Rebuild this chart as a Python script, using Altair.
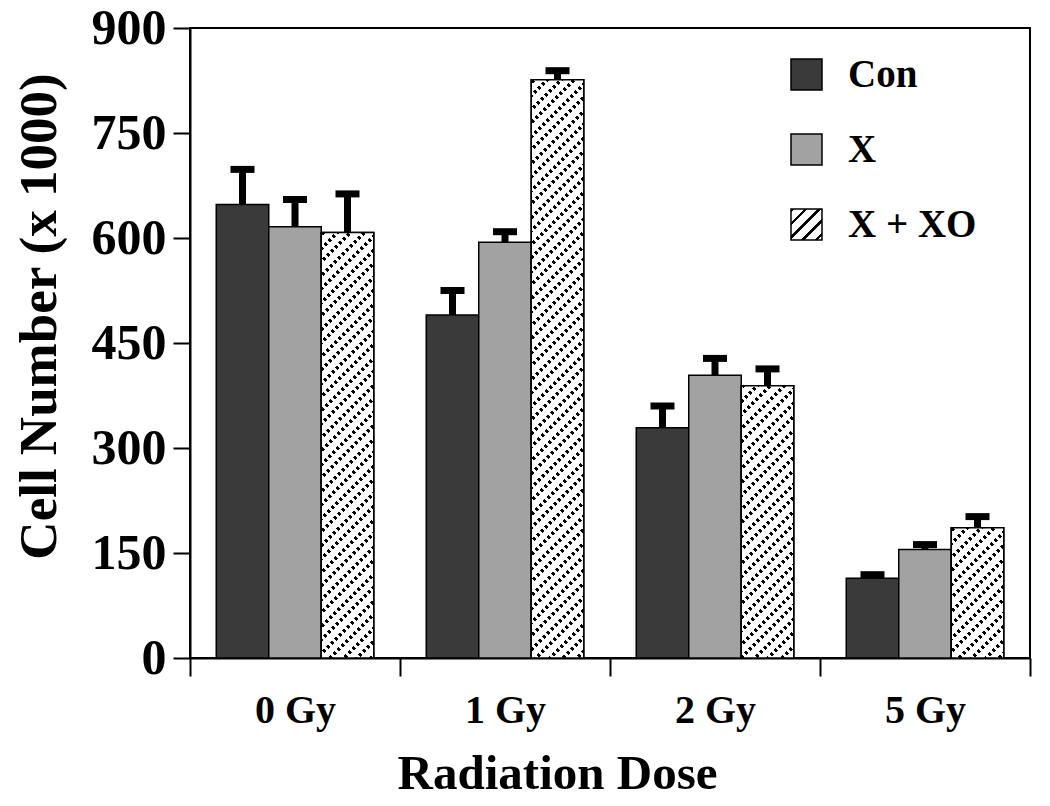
import json
import altair as alt
import pandas as pd

# ---- data ----
doses = ["0 Gy", "1 Gy", "2 Gy", "5 Gy"]
groups = ["Con", "X", "X + XO"]
con_vals = [648, 490, 329, 114]
x_vals = [616, 594, 404, 155]
xo_vals = [608, 826, 389, 186]
con_err = [50, 35, 31, 5]
x_err = [39, 15, 24, 7]
xo_err = [55, 13, 24, 16]
y_ticks = [0, 150, 300, 450, 600, 750, 900]

rows = []
for g, vals, errs in [("Con", con_vals, con_err), ("X", x_vals, x_err), ("X + XO", xo_vals, xo_err)]:
    for d, v, e in zip(doses, vals, errs):
        rows.append({"Dose": d, "Group": g, "Value": v, "Top": v + e})
df = pd.DataFrame(rows)

# ---- layout ----
W, H = 840, 630
YMAX = 900
BAR_W = W / len(doses) / 4.0
FONT = "Liberation Serif"
C_CON = "#3a3a3a"
C_X = "#a2a2a2"


def stripe_stops(total, period, dark, c_dark, c_light):
    stops = []
    k = 0
    while k * period < total:
        a = k * period / total
        b = min((k * period + dark) / total, 1.0)
        c = min((k + 1) * period / total, 1.0)
        stops += [
            {"offset": round(a, 5), "color": c_dark},
            {"offset": round(b, 5), "color": c_dark},
            {"offset": round(b, 5), "color": c_light},
            {"offset": round(c, 5), "color": c_light},
        ]
        k += 1
    return stops


def hatch_gradient(w, h, dark=5):
    c = (w + h) / (w * w + h * h)
    return {"gradient": "linear", "x1": 0, "y1": 0, "x2": c * w, "y2": c * h,
            "stops": stripe_stops(w + h, 13.5, dark, "black", "white")}


def breaker_gradient(w, h):
    c = (w + h) / (w * w + h * h)
    return {"gradient": "linear", "x1": 0, "y1": 1, "x2": c * w, "y2": 1 - c * h,
            "stops": stripe_stops(w + h, 8, 4.5, "rgba(255,255,255,0)", "white")}


legend_expr = json.dumps(hatch_gradient(31, 31, dark=3.5))

x_enc = alt.X("Dose:N", sort=doses,
              scale=alt.Scale(domain=doses, paddingInner=0, paddingOuter=0),
              axis=alt.Axis(title="Radiation Dose", tickBand="extent", tickSize=18,
                            labelAngle=0, labelPadding=14, labelFontSize=40,
                            titleFontSize=49, titleX=367, titleY=130,
                            titleBaseline="alphabetic"))
xo_enc = alt.XOffset("Group:N", sort=groups,
                     scale=alt.Scale(domain=groups, paddingInner=0, paddingOuter=0.5))
y_enc = alt.Y("Value:Q", scale=alt.Scale(domain=[0, YMAX], nice=False),
              axis=alt.Axis(title="Cell Number (x 1000)", values=y_ticks, tickSize=17,
                            labelPadding=7, labelFontSize=50, titleFontSize=53,
                            titleX=-151, titleY=288, titleBaseline="middle"))

base = alt.Chart(df).encode(x=x_enc, xOffset=xo_enc, y=y_enc)

bars = base.mark_bar(stroke="black", strokeWidth=1.5).encode(
    fill=alt.Fill("Group:N", sort=groups,
                  scale=alt.Scale(domain=groups, range=[C_CON, C_X, {"expr": legend_expr}]),
                  legend=alt.Legend(title=None, orient="none", legendX=597, legendY=27,
                                    symbolType="square", symbolSize=961,
                                    symbolStrokeColor="black", symbolStrokeWidth=1.5,
                                    labelFontSize=39, labelFont=FONT, labelFontWeight="bold",
                                    labelColor="black", labelOffset=22, rowPadding=35,
                                    padding=0))
)

overlays = []
for d, v in zip(doses, xo_vals):
    h = v * H / YMAX
    sel = base.transform_filter(
        (alt.datum.Group == "X + XO") & (alt.datum.Dose == d)
    )
    overlays.append(sel.mark_bar(fill=hatch_gradient(BAR_W, h), strokeWidth=0))
    overlays.append(sel.mark_bar(fill=breaker_gradient(BAR_W, h), strokeWidth=0))

outline = base.transform_filter(alt.datum.Group == "X + XO").mark_bar(
    fillOpacity=0, stroke="black", strokeWidth=1.5)

stems = base.mark_rule(color="black", strokeWidth=7).encode(y="Value:Q", y2="Top:Q")
caps = base.mark_tick(color="black", thickness=7, size=24, opacity=1).encode(y="Top:Q")

chart = alt.layer(bars, *overlays, outline, stems, caps).properties(
    width=W, height=H,
    autosize=alt.AutoSizeParams(type="none"),
    padding={"left": 182, "top": 20, "right": 12, "bottom": 140},
).configure_view(
    stroke="black", strokeWidth=2
).configure_axis(
    domainColor="black", domainWidth=2, tickColor="black", tickWidth=2,
    grid=False, labelFont=FONT, labelFontWeight="bold", labelColor="black",
    titleFont=FONT, titleFontWeight="bold", titleColor="black",
)

chart.save("out.html", embed_options={"renderer": "svg", "actions": False})
